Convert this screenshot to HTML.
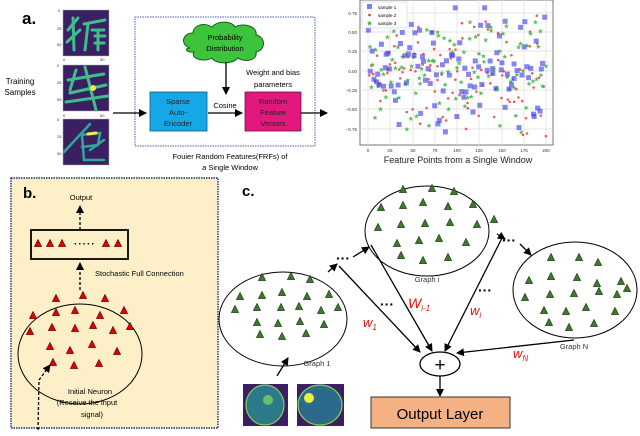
<!DOCTYPE html>
<html><head><meta charset="utf-8"><style>
html,body{margin:0;padding:0;background:#fff;width:640px;height:436px;overflow:hidden}
svg{display:block;font-family:"Liberation Sans",Arial,sans-serif}
</style></head><body>
<svg id="s" width="640" height="436" viewBox="0 0 640 436" xmlns="http://www.w3.org/2000/svg">
<defs>
<marker id="ah" markerWidth="8" markerHeight="8" refX="7" refY="4" orient="auto" markerUnits="userSpaceOnUse"><path d="M0,0 L8,4 L0,8 z" fill="#000"/></marker>
<symbol id="rt" viewBox="0 0 10 10"><path d="M5,0.5 L9.5,9.5 L0.5,9.5 z" fill="#e00000" stroke="#600" stroke-width="0.8"/></symbol>
<symbol id="gt" viewBox="0 0 10 10"><path d="M5,0.5 L9.5,9.5 L0.5,9.5 z" fill="#3d7a2a" stroke="#1a3a10" stroke-width="0.8"/></symbol>
</defs>
<!-- panel a -->
<text x="22" y="24" font-size="17" font-weight="bold">a.</text>
<g stroke-linecap="round" fill="none">
<rect x="63" y="10" width="46" height="46" fill="#3a1f63" stroke="#aaa" stroke-width="0.5"/>
<path d="M68,30 L78,18 M73,18 L74,50 M67,42 L80,30 M84,24 L105,20 M88,24 L85,50 M92,30 L104,30 M95,36 L105,36 M98,30 L98,50 M95,43 L104,43" stroke="#3dbf8a" stroke-width="3"/>
<rect x="63" y="65" width="46" height="46" fill="#3a1f63" stroke="#aaa" stroke-width="0.5"/>
<path d="M68,80 L104,74 M70,93 L106,85 M66,102 L108,96 M85,67 L96,110 M76,70 L70,90" stroke="#3dbf8a" stroke-width="3"/>
<circle cx="93" cy="88" r="3" fill="#e8f04a"/>
<rect x="63" y="119" width="46" height="46" fill="#3a1f63" stroke="#aaa" stroke-width="0.5"/>
<path d="M64,152 L90,124 M80,135 L100,133 L98,145 L82,147 M82,135 L84,160 L104,160 M90,150 L104,140" stroke="#2fa89a" stroke-width="2.5"/>
<path d="M88,134 L96,133" stroke="#e8f04a" stroke-width="3"/>
</g>
<g font-size="4" fill="#333">
<text x="58" y="12">0</text><text x="57" y="30">25</text><text x="57" y="46">50</text>
<text x="63" y="61">0</text><text x="100" y="61">50</text>
<text x="57" y="67">0</text><text x="57" y="84">25</text><text x="57" y="101">50</text>
<text x="63" y="117">0</text><text x="100" y="117">50</text>
<text x="57" y="121">0</text><text x="57" y="138">25</text><text x="57" y="155">50</text>
</g>
<text x="20" y="84" font-size="8" text-anchor="middle">Training</text>
<text x="20" y="95" font-size="8" text-anchor="middle">Samples</text>
<line x1="113" y1="113" x2="146" y2="113" stroke="#000" stroke-width="1.3" marker-end="url(#ah)"/>
<rect x="135" y="17" width="180" height="129" fill="none" stroke="#4a62b0" stroke-width="1" stroke-dasharray="1.5,1"/>
<path d="M190,48 C180,45 182,33 193,33 C193,25 205,22 212,27 C218,20 232,21 235,27 C244,22 258,27 256,35 C266,37 266,50 256,52 C258,60 245,63 238,58 C232,65 215,64 212,58 C203,63 190,58 194,52 C186,53 184,48 190,48 z" fill="#3cc43c" stroke="#1a5a1a" stroke-width="1"/>
<text x="225" y="40" font-size="7.5" text-anchor="middle">Probability</text>
<text x="225" y="51" font-size="7.5" text-anchor="middle">Distribution</text>
<line x1="226" y1="62" x2="226" y2="94" stroke="#000" stroke-width="1.3" marker-end="url(#ah)"/>
<text x="273" y="75" font-size="7.5" text-anchor="middle">Weight and bias</text>
<text x="273" y="87" font-size="7.5" text-anchor="middle">parameters</text>
<rect x="150" y="92" width="57" height="39" fill="#16a8e6" stroke="#0a5a80" stroke-width="0.8"/>
<text x="178" y="104" font-size="7.5" text-anchor="middle" fill="#222">Sparse</text>
<text x="178" y="115" font-size="7.5" text-anchor="middle" fill="#222">Auto-</text>
<text x="178" y="126" font-size="7.5" text-anchor="middle" fill="#222">Encoder</text>
<text x="225" y="108" font-size="7.5" text-anchor="middle">Cosine</text>
<line x1="208" y1="113" x2="242" y2="113" stroke="#000" stroke-width="1.3" marker-end="url(#ah)"/>
<rect x="245" y="92" width="56" height="39" fill="#e2187c" stroke="#7a0a40" stroke-width="0.8"/>
<text x="273" y="104" font-size="7.5" text-anchor="middle" fill="#222">Random</text>
<text x="273" y="115" font-size="7.5" text-anchor="middle" fill="#222">Feature</text>
<text x="273" y="126" font-size="7.5" text-anchor="middle" fill="#222">Vectors</text>
<line x1="301" y1="113" x2="327" y2="113" stroke="#000" stroke-width="1.3" marker-end="url(#ah)"/>
<text x="230" y="159" font-size="7.5" text-anchor="middle">Fouier Random Features(FRFs) of</text>
<text x="230" y="170" font-size="7.5" text-anchor="middle">a Single Window</text>
<!-- scatter -->
<g id="plot">
<rect x="360" y="0" width="193" height="145" fill="#fff" stroke="#555" stroke-width="0.8"/>
<g stroke="#ddd" stroke-width="0.7">
<line x1="368" y1="0" x2="368" y2="145"/><line x1="390" y1="0" x2="390" y2="145"/><line x1="413" y1="0" x2="413" y2="145"/><line x1="435" y1="0" x2="435" y2="145"/><line x1="457" y1="0" x2="457" y2="145"/><line x1="479" y1="0" x2="479" y2="145"/><line x1="502" y1="0" x2="502" y2="145"/><line x1="524" y1="0" x2="524" y2="145"/><line x1="546" y1="0" x2="546" y2="145"/>
<line x1="360" y1="13" x2="553" y2="13"/><line x1="360" y1="32" x2="553" y2="32"/><line x1="360" y1="51" x2="553" y2="51"/><line x1="360" y1="71" x2="553" y2="71"/><line x1="360" y1="90" x2="553" y2="90"/><line x1="360" y1="109" x2="553" y2="109"/><line x1="360" y1="129" x2="553" y2="129"/>
</g>
<g font-size="4.5" fill="#333" text-anchor="end">
<text x="357" y="15">0.75</text><text x="357" y="34">0.50</text><text x="357" y="53">0.25</text><text x="357" y="73">0.00</text><text x="357" y="92">−0.25</text><text x="357" y="111">−0.50</text><text x="357" y="131">−0.75</text>
</g>
<g font-size="4.5" fill="#333" text-anchor="middle">
<text x="368" y="152">0</text><text x="390" y="152">25</text><text x="413" y="152">50</text><text x="435" y="152">75</text><text x="457" y="152">100</text><text x="479" y="152">125</text><text x="502" y="152">150</text><text x="524" y="152">175</text><text x="546" y="152">200</text>
</g>
<g id="pts"></g>
<rect x="362" y="2" width="45" height="26" fill="#fff" fill-opacity="0.85" stroke="#ccc" stroke-width="0.5"/>
<rect x="367" y="4" width="5" height="5" fill="#4444ee" fill-opacity="0.7"/>
<text x="378" y="9" font-size="4.5">sample 1</text>
<circle cx="369.5" cy="15" r="1.3" fill="#e33"/>
<text x="378" y="17" font-size="4.5">sample 2</text>
<text x="369.5" y="25.5" font-size="7" fill="#3a3" text-anchor="middle">★</text>
<text x="378" y="25" font-size="4.5">sample 3</text>
<text x="458" y="163" font-size="9" text-anchor="middle" fill="#222">Feature Points from a Single Window</text>
</g>
<!-- panel b -->
<rect x="11" y="178" width="207" height="250" fill="#fdf0c9" stroke="#1c2a70" stroke-width="1.4" stroke-dasharray="1.5,1"/>
<text x="23" y="198" font-size="15" font-weight="bold">b.</text>
<text x="81" y="200" font-size="7.5" text-anchor="middle">Output</text>
<line x1="80" y1="230" x2="80" y2="206" stroke="#000" stroke-width="1.3" stroke-dasharray="3,2" marker-end="url(#ah)"/>
<rect x="31" y="230" width="97" height="29" fill="none" stroke="#000" stroke-width="1.8"/>
<use href="#rt" x="34" y="239" width="8" height="8"/><use href="#rt" x="46" y="239" width="8" height="8"/><use href="#rt" x="58" y="239" width="8" height="8"/>
<text x="74" y="247" font-size="10" font-weight="bold" letter-spacing="1">·····</text>
<use href="#rt" x="102" y="239" width="8" height="8"/><use href="#rt" x="114" y="239" width="8" height="8"/>
<line x1="80" y1="290" x2="80" y2="263" stroke="#000" stroke-width="1.3" stroke-dasharray="3,2" marker-end="url(#ah)"/>
<text x="95" y="276" font-size="7.5">Stochastic Full Connection</text>
<ellipse cx="80" cy="354" rx="62" ry="50" fill="none" stroke="#000" stroke-width="1"/>
<g id="redt"></g>
<path d="M38,430 L39,380 L50,365" fill="none" stroke="#000" stroke-width="1.3" stroke-dasharray="3,2" marker-end="url(#ah)"/>
<text x="90" y="394" font-size="7.5" text-anchor="middle">Initial Neuron</text>
<text x="87" y="405" font-size="7.5" text-anchor="middle">(Receive the input</text>
<text x="92" y="417" font-size="7.5" text-anchor="middle">signal)</text>
<!-- panel c -->
<text x="242" y="196" font-size="15" font-weight="bold">c.</text>
<ellipse cx="283" cy="319" rx="64" ry="47" fill="#fff" stroke="#000" stroke-width="1"/>
<ellipse cx="427" cy="231" rx="62" ry="45" fill="#fff" stroke="#000" stroke-width="1"/>
<ellipse cx="575" cy="290" rx="62" ry="48" fill="#fff" stroke="#000" stroke-width="1"/>
<g id="grt"></g>
<text x="317" y="366" font-size="7.5" text-anchor="middle" fill="#333">Graph 1</text>
<text x="427" y="282" font-size="7.5" text-anchor="middle" fill="#333">Graph i</text>
<text x="574" y="349" font-size="7.5" text-anchor="middle" fill="#333">Graph N</text>
<g stroke="#000" stroke-width="1.3" fill="none">
<line x1="328" y1="272" x2="337" y2="264" marker-end="url(#ah)"/>
<line x1="353" y1="257" x2="369" y2="247" marker-end="url(#ah)"/>
<line x1="497" y1="234" x2="505" y2="239" marker-end="url(#ah)"/>
<line x1="520" y1="244" x2="531" y2="255" marker-end="url(#ah)"/>
<line x1="339" y1="266" x2="420" y2="352" marker-end="url(#ah)"/>
<line x1="371" y1="245" x2="432" y2="351" marker-end="url(#ah)"/>
<line x1="502" y1="238" x2="445" y2="351" marker-end="url(#ah)"/>
<line x1="574" y1="340" x2="457" y2="353" marker-end="url(#ah)"/>
<line x1="277" y1="376" x2="288" y2="358" marker-end="url(#ah)"/>
<line x1="440" y1="376" x2="440" y2="396" marker-end="url(#ah)"/>
</g>
<g font-size="14" font-weight="bold">
<text x="336" y="263">···</text><text x="502" y="245">···</text>
<text x="380" y="309">···</text><text x="478" y="295">···</text>
</g>
<g fill="#e01010" font-style="italic">
<text x="363" y="327" font-size="13">w<tspan font-size="8" dy="3">1</tspan></text>
<text x="408" y="308" font-size="14">W<tspan font-size="8" dy="3">i-1</tspan></text>
<text x="470" y="315" font-size="13">w<tspan font-size="8" dy="3">i</tspan></text>
<text x="513" y="358" font-size="13">w<tspan font-size="8" dy="3">N</tspan></text>
</g>
<ellipse cx="440" cy="364" rx="20" ry="12" fill="#fff" stroke="#000" stroke-width="1.3"/>
<text x="440" y="371" font-size="19" text-anchor="middle">+</text>
<rect x="371" y="397" width="139" height="31" fill="#f4b183" stroke="#333" stroke-width="1"/>
<text x="440" y="419" font-size="15" text-anchor="middle">Output Layer</text>
<!-- brain images -->
<rect x="243" y="384" width="45" height="42" fill="#3a1f63"/>
<ellipse cx="265" cy="405" rx="19" ry="20" fill="#2b7a8a" stroke="#8ad050" stroke-width="1.2"/>
<circle cx="268" cy="400" r="5" fill="#6ac06a"/>
<rect x="297" y="384" width="47" height="42" fill="#3a1f63"/>
<ellipse cx="320" cy="405" rx="22" ry="20" fill="#2b6a8a" stroke="#8ad050" stroke-width="1.2"/>
<circle cx="309" cy="398" r="5" fill="#e8f040"/>
</svg>
<script>
var NS="http://www.w3.org/2000/svg";
function use(g,id,x,y,s){var u=document.createElementNS(NS,"use");u.setAttribute("href",id);u.setAttribute("x",x-s/2);u.setAttribute("y",y-s/2);u.setAttribute("width",s);u.setAttribute("height",s);g.appendChild(u);}
var r=[[56,298],[83,295],[105,298],[33,315],[56,312],[75,310],[100,315],[124,310],[30,331],[52,327],[75,328],[93,325],[113,330],[130,326],[50,346],[70,350],[92,344],[117,351],[53,362],[74,365],[99,363]];
var g=document.getElementById("redt");r.forEach(function(p){use(g,"#rt",p[0],p[1],8)});
var gr=[[263,277],[292,276],[311,279],[241,296],[263,295],[283,292],[308,296],[330,294],[236,309],[258,307],[282,307],[300,306],[322,310],[339,307],[258,322],[279,323],[301,321],[325,324],[261,334],[283,336],[307,333],
[404,189],[433,188],[455,191],[382,207],[404,205],[424,202],[449,206],[474,204],[379,227],[402,224],[426,223],[451,222],[478,224],[495,219],[398,243],[420,240],[440,238],[467,242],[402,255],[424,260],[449,257],
[552,257],[580,257],[599,262],[530,280],[552,276],[578,277],[598,283],[622,281],[526,297],[551,294],[575,293],[600,291],[618,294],[628,288],[545,310],[567,311],[587,307],[616,311],[550,322],[570,327],[595,323]];
var g2=document.getElementById("grt");gr.forEach(function(p){use(g2,"#gt",p[0]-1,p[1],8)});
var s=12345;function rnd(){s=(s*1103515245+12345)%2147483648;return s/2147483648;}
function gy(){var v=(rnd()+rnd()-1)*0.9;if(v>0.82)v=0.82;if(v<-0.87)v=-0.87;return v;}
var pg=document.getElementById("pts");
function Y(v){return 71-v*77;}
for(var i=0;i<200;i+=2){var x=368+i*0.89;
 var c=document.createElementNS(NS,"circle");c.setAttribute("cx",x+rnd()*2);c.setAttribute("cy",Y(gy()));c.setAttribute("r",1.3);c.setAttribute("fill","#e33");c.setAttribute("fill-opacity","0.8");pg.appendChild(c);
 var t=document.createElementNS(NS,"text");t.setAttribute("x",x+rnd()*2);t.setAttribute("y",Y(gy())+2.5);t.setAttribute("font-size","7");t.setAttribute("fill","#3a3");t.setAttribute("fill-opacity","0.8");t.setAttribute("text-anchor","middle");t.textContent="★";pg.appendChild(t);
 var q=document.createElementNS(NS,"rect");q.setAttribute("x",x+rnd()*2-2.5);q.setAttribute("y",Y(gy())-2.5);q.setAttribute("width",5);q.setAttribute("height",5);q.setAttribute("fill","#4444ee");q.setAttribute("fill-opacity","0.65");pg.appendChild(q);}
</script>
</body></html>
